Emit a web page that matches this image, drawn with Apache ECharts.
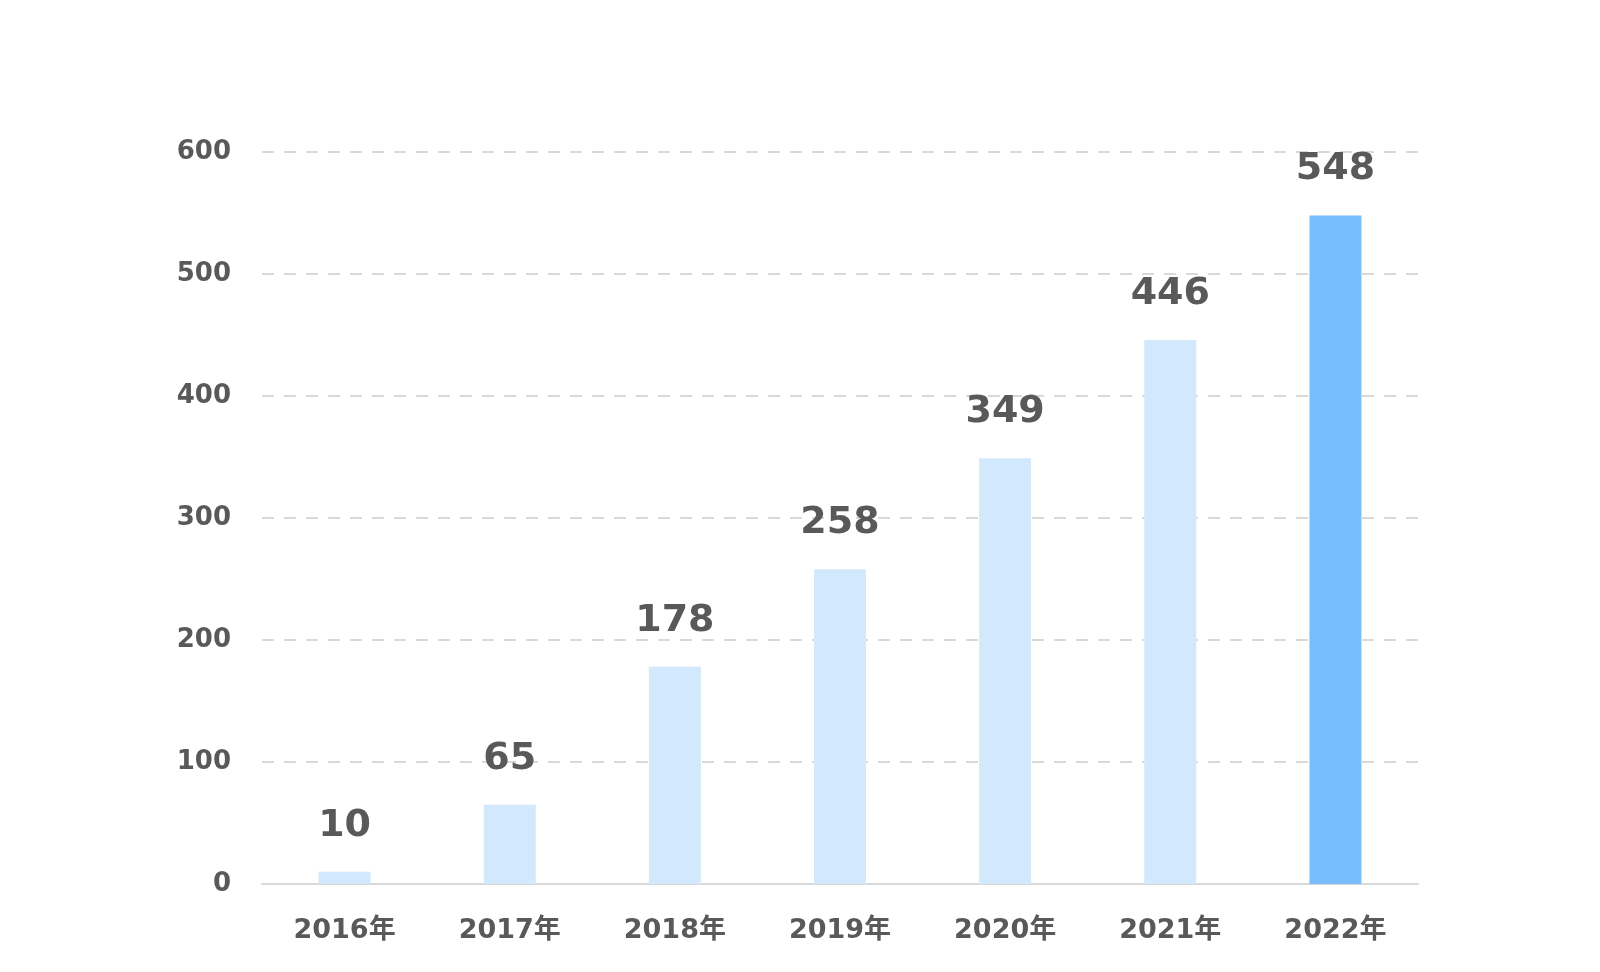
<!DOCTYPE html>
<html>
<head>
<meta charset="utf-8">
<script src="https://cdn.jsdelivr.net/npm/echarts@6/dist/echarts.min.js"></script>
<style>
html,body{margin:0;padding:0;background:#fff;}
#main{width:1600px;height:972px;}
</style>
</head>
<body>
<div id="main"></div>
<script>
const categories = ['2016年','2017年','2018年','2019年','2020年','2021年','2022年'];
const values = [10, 65, 178, 258, 349, 446, 548];
const yTicks = [0, 100, 200, 300, 400, 500, 600];

const lightColor = '#D2E8FD';
const highlightColor = '#78BEFF';
const textColor = '#595959';
const fontFam = '"DejaVu Sans", "Noto Sans CJK SC", sans-serif';

const chart = echarts.init(document.getElementById('main'));
chart.setOption({
  backgroundColor: '#ffffff',
  animation: false,
  grid: { left: 262, right: 182, top: 152, bottom: 88, containLabel: false },
  xAxis: {
    type: 'category',
    data: categories,
    axisLine: { show: true, lineStyle: { color: '#D9D9D9', width: 2 } },
    axisTick: { show: false },
    axisLabel: { color: textColor, fontSize: 27, fontWeight: 'bold', fontFamily: fontFam, margin: 33 }
  },
  yAxis: {
    type: 'value',
    min: yTicks[0],
    max: yTicks[yTicks.length - 1],
    interval: 100,
    axisLine: { show: false },
    axisTick: { show: false },
    axisLabel: { color: textColor, fontSize: 26, fontWeight: 'bold', fontFamily: fontFam, margin: 31 },
    splitLine: { show: true, lineStyle: { color: '#D9D9D9', type: [12, 10], width: 2 } }
  },
  series: [{
    type: 'bar',
    data: values.map((v, i) => ({
      value: v,
      itemStyle: { color: i === values.length - 1 ? highlightColor : lightColor }
    })),
    barWidth: 52,
    label: {
      show: true,
      position: 'top',
      distance: 27,
      color: textColor,
      fontSize: 38,
      fontWeight: 'bold',
      fontFamily: fontFam
    }
  }]
});
</script>
</body>
</html>
